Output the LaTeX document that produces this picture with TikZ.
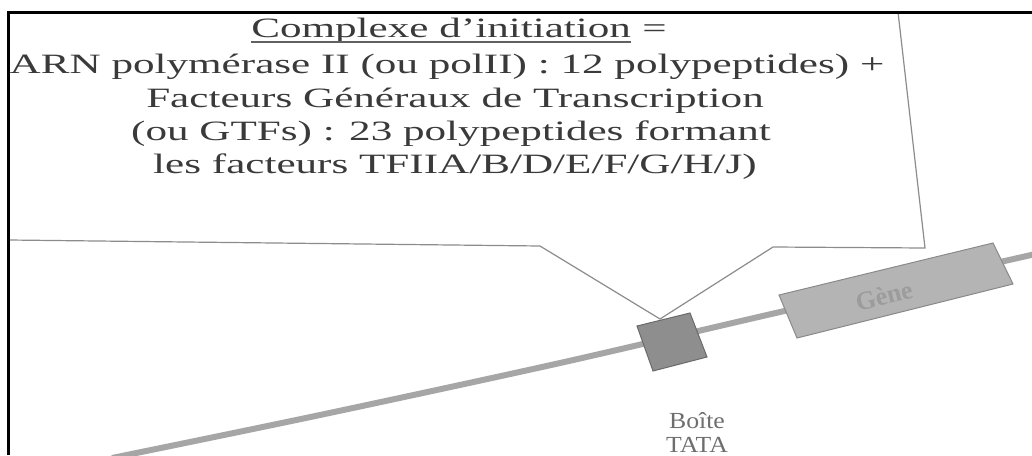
\documentclass[tikz,border=0pt]{standalone}
\usepackage{fontspec}
\setmainfont{Liberation Serif}
\definecolor{txt}{HTML}{3A3A3A}
\definecolor{calloutline}{HTML}{8C8C8C}
\definecolor{dnacol}{HTML}{A6A6A6}
\definecolor{tatafill}{HTML}{8E8E8E}
\definecolor{tataedge}{HTML}{6A6A6A}
\definecolor{genefill}{HTML}{B4B4B4}
\definecolor{geneedge}{HTML}{8A8A8A}
\definecolor{genetxt}{HTML}{9C9C9C}
\definecolor{labeltxt}{HTML}{6E6E6E}
\tikzset{
  callouttext/.style={anchor=base, inner sep=0pt, text=txt, xscale=1.54,
    font=\fontsize{28}{34}\selectfont},
  calloutshape/.style={draw=calloutline, line width=1.2pt, fill=white, line join=miter},
  dnastrand/.style={draw=dnacol, line width=6pt},
  tatabox/.style={fill=tatafill, draw=tataedge, line width=1pt},
  genebox/.style={fill=genefill, draw=geneedge, line width=1pt},
  frameline/.style={draw=black, line width=3pt},
  underlinestyle/.style={draw=txt!80, line width=1.3pt},
  labelstyle/.style={anchor=base, inner sep=0pt, text=labeltxt, xscale=1.12,
    font=\fontsize{23}{23}\selectfont},
}
\begin{document}
\begin{tikzpicture}[x=1pt, y=-1pt]
\useasboundingbox (0,0) rectangle (1032,455);
\fill[white] (0,0) rectangle (1032,455);

% callout
\draw[calloutshape] (9,12) -- (898,12) -- (925,248) -- (773,247) -- (660,319) -- (540,246) -- (9,240);

% DNA strand
\draw[dnastrand] plot[smooth] coordinates {(112,458) (320,415) (560,363) (780,312) (1040,253)};

% TATA box
\coordinate (tataA) at (637,326);
\coordinate (tataB) at (690,313);
\coordinate (tataC) at (707,357);
\coordinate (tataD) at (653,371);
\draw[tatabox] (tataA) -- (tataB) -- (tataC) -- (tataD) -- cycle;

% gene box
\coordinate (geneA) at (779,295);
\coordinate (geneB) at (993,243);
\coordinate (geneC) at (1013,284);
\coordinate (geneD) at (797,338);
\draw[genebox] (geneA) -- (geneB) -- (geneC) -- (geneD) -- cycle;
\node[inner sep=0pt, text=genetxt, rotate=13.7,
  font=\fontsize{26}{26}\selectfont\bfseries] (gene) at (884,296) {Gène};

% labels
\node[labelstyle] (boite) at (697,428) {Boîte};
\node[labelstyle] (tata) at (697,452) {TATA};

% callout text
\node[callouttext, anchor=base west] (t1a) at (251,37) {Complexe d’initiation};
\node[callouttext, anchor=base west] (t1b) at (t1a.base east) {\ =};
\draw[underlinestyle] ([yshift=-5pt]t1a.base west) -- ([yshift=-5pt]t1a.base east);
\node[callouttext] (t2) at (447,73) {ARN polymérase II (ou polII) : 12 polypeptides) +};
\node[callouttext] (t3) at (455,107) {Facteurs Généraux de Transcription};
\node[callouttext] (t4) at (451,140) {(ou GTFs) : 23 polypeptides formant};
\node[callouttext] (t5) at (455,173) {les facteurs TFIIA/B/D/E/F/G/H/J)};

% frame
\draw[frameline] (8,455) -- (8,12) -- (1032,12);
\end{tikzpicture}
\end{document}
